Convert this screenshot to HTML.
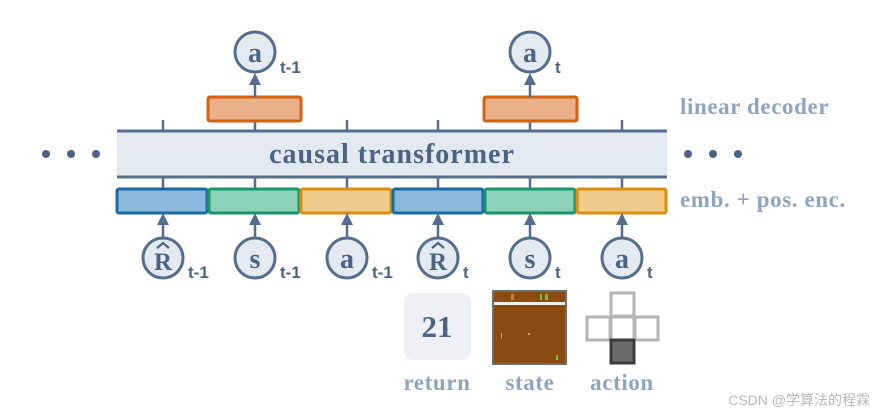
<!DOCTYPE html>
<html><head><meta charset="utf-8"><style>
html,body{margin:0;padding:0;background:#fff;width:875px;height:415px;overflow:hidden}
</style></head><body>
<svg width="875" height="415" viewBox="0 0 875 415" xmlns="http://www.w3.org/2000/svg" font-family="'Liberation Serif',serif" font-weight="bold">
<!-- transformer -->
<rect x="117" y="131" width="550" height="46" fill="#e2e9f1"/>
<line x1="117" y1="131" x2="667" y2="131" stroke="#566e8c" stroke-width="3"/>
<line x1="117" y1="177" x2="667" y2="177" stroke="#566e8c" stroke-width="3"/>
<text x="392" y="163" text-anchor="middle" font-size="28" letter-spacing="1" fill="#4d6383">causal transformer</text>
<g stroke="#566e8c" stroke-width="2.5">
<line x1="163" y1="120" x2="163" y2="131"/><line x1="255" y1="120" x2="255" y2="131"/><line x1="347" y1="120" x2="347" y2="131"/><line x1="438" y1="120" x2="438" y2="131"/><line x1="530" y1="120" x2="530" y2="131"/><line x1="622" y1="120" x2="622" y2="131"/>
<line x1="163" y1="177" x2="163" y2="189"/><line x1="255" y1="177" x2="255" y2="189"/><line x1="347" y1="177" x2="347" y2="189"/><line x1="438" y1="177" x2="438" y2="189"/><line x1="530" y1="177" x2="530" y2="189"/><line x1="622" y1="177" x2="622" y2="189"/>
</g>
<g fill="#4d6383"><circle cx="46" cy="154" r="4"/><circle cx="71" cy="154" r="4"/><circle cx="96" cy="154" r="4"/><circle cx="688" cy="154" r="4"/><circle cx="713" cy="154" r="4"/><circle cx="738" cy="154" r="4"/></g>
<!-- embeddings -->
<g stroke-width="3">
<rect x="117" y="189" width="90" height="24" rx="2" fill="#8ab9dc" stroke="#1b6aa5"/>
<rect x="209" y="189" width="90" height="24" rx="2" fill="#8dd3b9" stroke="#16966a"/>
<rect x="301" y="189" width="90" height="24" rx="2" fill="#f0cb8c" stroke="#de8d0e"/>
<rect x="393" y="189" width="90" height="24" rx="2" fill="#8ab9dc" stroke="#1b6aa5"/>
<rect x="485" y="189" width="90" height="24" rx="2" fill="#8dd3b9" stroke="#16966a"/>
<rect x="577" y="189" width="89" height="24" rx="2" fill="#f0cb8c" stroke="#de8d0e"/>
<rect x="208" y="97" width="93" height="24" rx="2" fill="#eab08a" stroke="#d5600f"/>
<rect x="484" y="97" width="93" height="24" rx="2" fill="#eab08a" stroke="#d5600f"/>
</g>
<!-- arrows -->
<g stroke="#566e8c" stroke-width="2.5">
<line x1="163" y1="237" x2="163" y2="222"/><line x1="255" y1="237" x2="255" y2="222"/><line x1="347" y1="237" x2="347" y2="222"/><line x1="438" y1="237" x2="438" y2="222"/><line x1="530" y1="237" x2="530" y2="222"/><line x1="622" y1="237" x2="622" y2="222"/>
<line x1="255" y1="97" x2="255" y2="82"/><line x1="530" y1="97" x2="530" y2="82"/>
</g>
<g fill="#566e8c">
<path d="M157,225 L163,213 L169,225Z"/><path d="M249,225 L255,213 L261,225Z"/><path d="M341,225 L347,213 L353,225Z"/><path d="M432,225 L438,213 L444,225Z"/><path d="M524,225 L530,213 L536,225Z"/><path d="M616,225 L622,213 L628,225Z"/>
<path d="M249,85 L255,73 L261,85Z"/><path d="M524,85 L530,73 L536,85Z"/>
</g>
<!-- circles -->
<g fill="#e3eaf2" stroke="#566e8c" stroke-width="3">
<circle cx="163" cy="258" r="20"/><circle cx="255" cy="258" r="20"/><circle cx="347" cy="258" r="20"/><circle cx="438" cy="258" r="20"/><circle cx="530" cy="258" r="20"/><circle cx="622" cy="258" r="20"/>
<circle cx="255" cy="52" r="20"/><circle cx="530" cy="52" r="20"/>
</g>
<g fill="#4d6383" font-size="28" text-anchor="middle">
<text x="163" y="270" font-size="25">R</text>
<text x="255" y="268">s</text><text x="347" y="268">a</text>
<text x="438" y="270" font-size="25">R</text>
<text x="530" y="268">s</text><text x="622" y="268">a</text>
<text x="255" y="62">a</text><text x="530" y="62">a</text>
</g>
<g fill="none" stroke="#4d6383" stroke-width="2.2">
<path d="M157,248 L163,243 L169,248"/><path d="M432,248 L438,243 L444,248"/>
</g>
<g fill="#4d6383" font-size="17" font-family="'Liberation Sans',sans-serif" font-weight="bold">
<text x="188" y="278">t-1</text><text x="280" y="278">t-1</text><text x="372" y="278">t-1</text>
<text x="463" y="278">t</text><text x="555" y="278">t</text><text x="647" y="278">t</text>
<text x="280" y="73">t-1</text><text x="555" y="73">t</text>
</g>
<g fill="#8ea4bf" font-size="23" letter-spacing="0.6">
<text x="680" y="114">linear decoder</text>
<text x="680" y="207">emb. + pos. enc.</text>
<text x="437" y="390" text-anchor="middle">return</text>
<text x="530" y="390" text-anchor="middle">state</text>
<text x="622" y="390" text-anchor="middle">action</text>
</g>
<!-- return -->
<rect x="404" y="293" width="67" height="67" rx="9" fill="#eef0f3"/>
<text x="437" y="337" text-anchor="middle" font-size="31" fill="#4d6383">21</text>
<!-- state -->
<rect x="493" y="291" width="73" height="73" fill="#8b4a10" stroke="#6b6f74" stroke-width="2"/>
<rect x="494" y="302" width="71" height="3" fill="#f2efe8"/>
<rect x="511" y="294" width="3" height="6" fill="#d07a3a"/><rect x="540" y="294" width="2" height="6" fill="#5ccf3c"/><rect x="545" y="294" width="3" height="6" fill="#5ccf3c"/>
<rect x="501" y="333" width="1" height="5" fill="#e0a060"/><rect x="528" y="333" width="2" height="2" fill="#e0a060"/><rect x="556" y="355" width="2" height="5" fill="#5ccf3c"/>
<!-- action -->
<g fill="#fff" stroke="#b5b5b5" stroke-width="3">
<rect x="611" y="293" width="23" height="23"/>
<rect x="587" y="317" width="23" height="23"/><rect x="611" y="317" width="23" height="23"/><rect x="635" y="317" width="23" height="23"/>
</g>
<rect x="611" y="340" width="23" height="23" fill="#6b6b6b" stroke="#3c3c3c" stroke-width="3"/>
<text x="870" y="405" text-anchor="end" font-size="14" font-weight="normal" fill="#b8b8b8" font-family="'Liberation Sans','Noto Sans CJK SC',sans-serif">CSDN @学算法的程霖</text>
</svg>
</body></html>
